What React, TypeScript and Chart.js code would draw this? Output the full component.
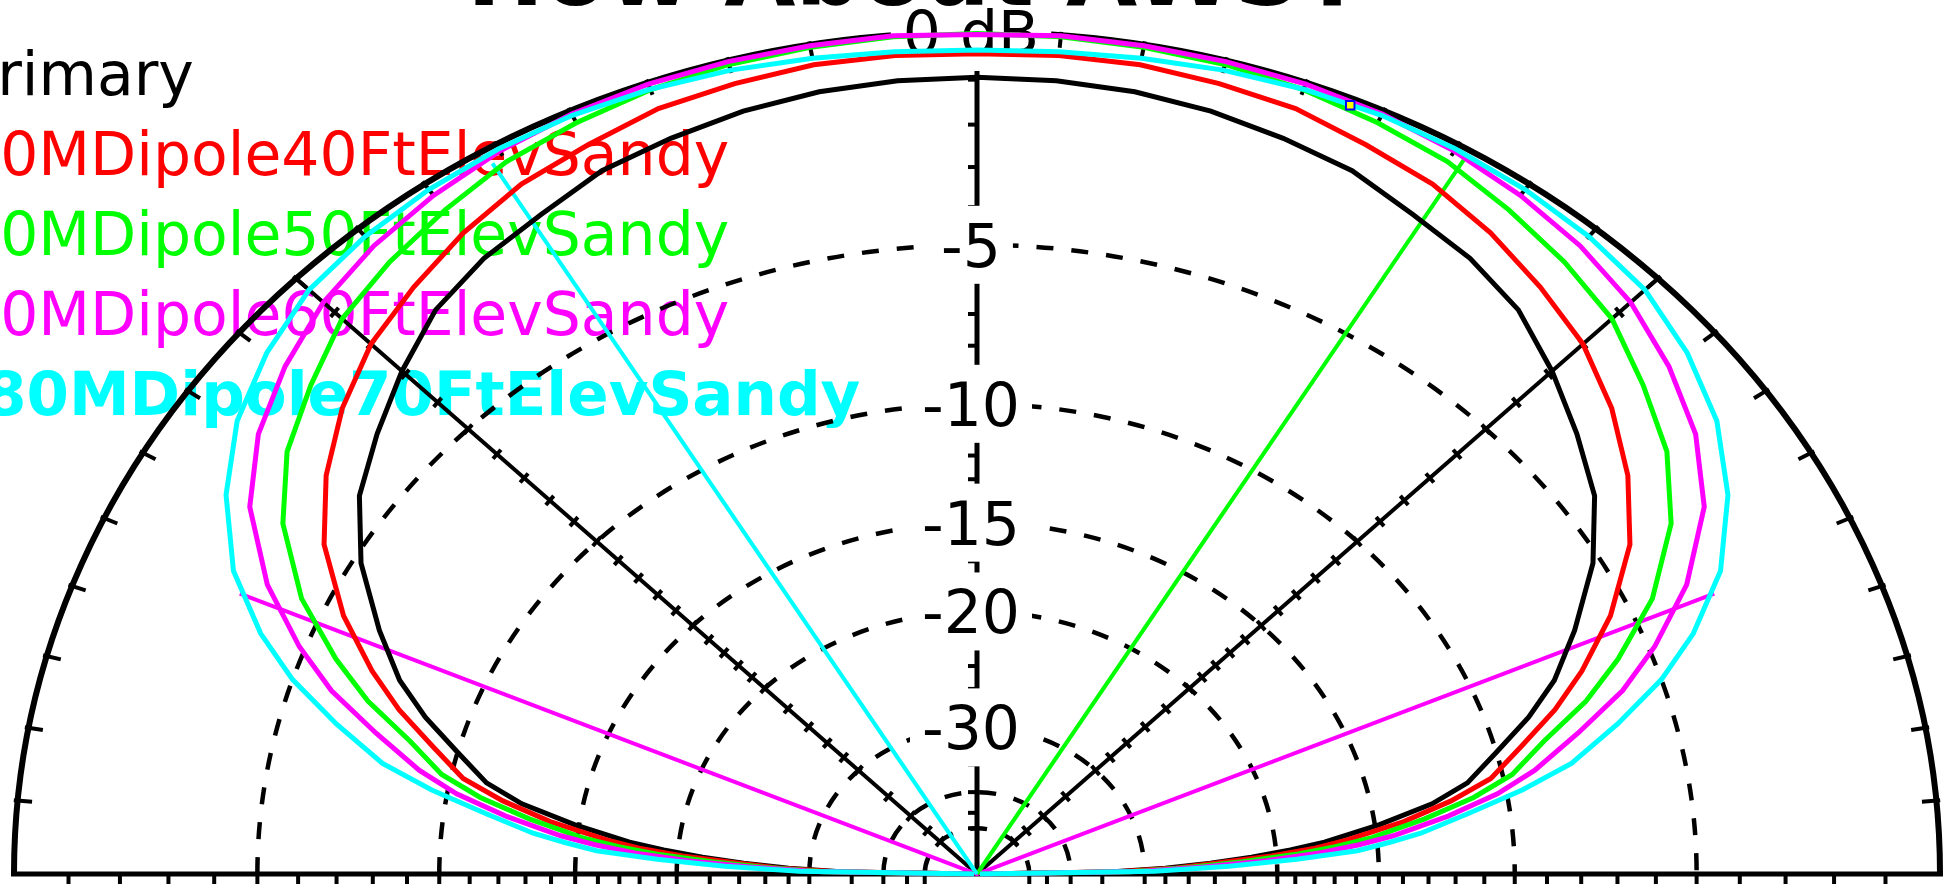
import React, { useEffect, useRef } from "react";
import { Chart, registerables } from "chart.js";

Chart.register(...registerables);

// ---------------- data ----------------
const TITLE = "How About AWST";
const LEGEND_LABELS = [
  "Primary",
  "80MDipole40FtElevSandy",
  "80MDipole50FtElevSandy",
  "80MDipole60FtElevSandy",
  "80MDipole70FtElevSandy",
];
const SERIES_COLORS = ["#000000", "#ff0000", "#00ff00", "#ff00ff", "#00ffff"];

// elevation angle (degrees) of each pattern sample
const ELEVATION_DEG = [
  0, 1, 2, 3, 4, 5, 6, 8, 10, 12, 15, 18, 21, 25, 30, 35, 40, 45, 50, 55, 60, 65, 70, 75, 80, 85, 90,
  95, 100, 105, 110, 115, 120, 125, 130, 135, 140, 145, 150, 155, 159, 162, 165, 168, 170, 172, 174,
  175, 176, 177, 178, 179, 180,
];

// gain (dB, relative) per trace
const PRIMARY_DB = [
  -99, -34, -28, -24.3, -21.5, -19.2, -17.4, -14.8, -12.6, -11.2, -10.0, -8.7, -7.6, -6.5, -5.2, -4.2, -3.55, -2.9, -2.3, -1.95, -1.72, -1.4, -1.25, -1.1, -1.0, -0.96, -0.95,
  -0.96, -1.0, -1.1, -1.25, -1.4, -1.72, -1.95, -2.3, -2.9, -3.55, -4.2, -5.2, -6.5, -7.6, -8.7, -10.0, -11.2, -12.6, -14.8, -17.4,
  -19.2, -21.5, -24.3, -28, -34, -99,
];
const DIPOLE40_DB = [
  -99, -33, -27, -23.8, -20.3, -17.9, -16.3, -13.8, -11.9, -10.4, -9.2, -7.9, -6.8, -5.5, -4.2, -3.3, -2.58, -2.0, -1.62, -1.25, -0.95, -0.78, -0.57, -0.49, -0.42, -0.42, -0.45,
  -0.42, -0.42, -0.49, -0.57, -0.78, -0.95, -1.25, -1.62, -2.0, -2.58, -3.3, -4.2, -5.5, -6.8, -7.9, -9.2, -10.4, -11.9, -13.8, -16.3,
  -17.9, -20.3, -23.8, -27, -33, -99,
];
const DIPOLE50_DB = [
  -99, -31.5, -26, -22.1, -19.0, -16.9, -15.2, -13.0, -11.1, -9.7, -8.5, -7.0, -5.8, -4.4, -3.15, -2.3, -1.75, -1.2, -0.9, -0.65, -0.4, -0.27, -0.15, -0.08, -0.05, -0.03, -0.03,
  -0.03, -0.05, -0.08, -0.15, -0.27, -0.4, -0.65, -0.9, -1.2, -1.75, -2.3, -3.15, -4.4, -5.8, -7.0, -8.5, -9.7, -11.1, -13.0, -15.2,
  -16.9, -19.0, -22.1, -26, -31.5, -99,
];
const DIPOLE60_DB = [
  -99, -30.5, -24.8, -20.6, -17.7, -15.8, -14.3, -12.1, -10.3, -9.0, -7.5, -6.0, -4.85, -3.55, -2.35, -1.6, -1.1, -0.7, -0.45, -0.28, -0.15, -0.07, -0.03, -0.02, -0.02, -0.01, -0.05,
  -0.01, -0.02, -0.02, -0.03, -0.07, -0.15, -0.28, -0.45, -0.7, -1.1, -1.6, -2.35, -3.55, -4.85, -6.0, -7.5, -9.0, -10.3, -12.1, -14.3,
  -15.8, -17.7, -20.6, -24.8, -30.5, -99,
];
const DIPOLE70_DB = [
  -99, -29, -23.0, -18.9, -15.9, -14.5, -13.2, -11.4, -9.5, -7.9, -6.4, -5.0, -3.9, -2.75, -1.8, -1.1, -0.65, -0.33, -0.2, -0.13, -0.1, -0.1, -0.14, -0.2, -0.28, -0.34, -0.37,
  -0.34, -0.28, -0.2, -0.14, -0.1, -0.1, -0.13, -0.2, -0.33, -0.65, -1.1, -1.8, -2.75, -3.9, -5.0, -6.4, -7.9, -9.5, -11.4, -13.2,
  -14.5, -15.9, -18.9, -23.0, -29, -99,
];

// direction indicator lines (from origin out to the trace)
const CYAN_LINE_DEG = [120.8];
const CYAN_LINE_DB = [-0.3];
const GREEN_LINE_DEG = [59.2];
const GREEN_LINE_DB = [-0.16];
const MAGENTA_LINE_DEG = [156.5, 23.5];
const MAGENTA_LINE_DB = [-3.1, -3.1];

// cursor marker
const CURSOR_DEG = [67];
const CURSOR_DB = [-0.14];

// grid
const RING_DB = [-5, -10, -15, -20, -30, -40, -50];
const LABEL_DB = [0, -5, -10, -15, -20, -30];
const LABEL_TEXT = ["0 dB", "-5", "-10", "-15", "-20", "-30"];
const SCALE_TICK_DB = [
  -1, -2, -3, -4, -5, -6, -7, -8, -9, -10, -11, -12, -13, -14, -15, -16, -17, -18, -19, -20,
  -22, -24, -26, -28, -30, -35, -40, -45, -50,
];
const RIM_TICK_DEG = [
  5, 10, 15, 20, 25, 30, 35, 40, 45, 50, 55, 60, 65, 70, 75, 80, 85, 95, 100, 105, 110, 115, 120,
  125, 130, 135, 140, 145, 150, 155, 160, 165, 170, 175,
];
const SPOKE_DEG = [45, 90, 135];

// ---------------- helpers ----------------
const W = 1954;
const H = 885;
const CX_PX = 977;
const CY_PX = 874;
const RX_PX = 963;
const RY_PX = 842;

// ARRL log-periodic polar scale: radius shrinks to 0.89 every 2 dB
const arrl = (db: number) => Math.pow(0.89, -db / 2);
const polar = (deg: number, db: number) => {
  const r = arrl(db);
  const t = (deg * Math.PI) / 180;
  return { x: r * Math.cos(t), y: r * Math.sin(t) };
};
const trace = (degs: number[], dbs: number[]) => degs.map((d, i) => polar(d, dbs[i]));

const FONT = '"DejaVu Sans", "Liberation Sans", sans-serif';

const gridPlugin = {
  id: "ezGrid",
  beforeDatasetsDraw(chart: any) {
    const ctx = chart.ctx as CanvasRenderingContext2D;
    const xs = chart.scales.x;
    const ys = chart.scales.y;
    const cx = xs.getPixelForValue(0);
    const cy = ys.getPixelForValue(0);
    const rx = xs.getPixelForValue(1) - cx;
    const ry = cy - ys.getPixelForValue(1);
    const pt = (deg: number, r: number) => {
      const t = (deg * Math.PI) / 180;
      return [cx + r * rx * Math.cos(t), cy - r * ry * Math.sin(t)];
    };

    ctx.save();
    ctx.lineCap = "butt";
    ctx.textAlign = "left";
    ctx.textBaseline = "alphabetic";

    // legend (colored text)
    LEGEND_LABELS.forEach((t, i) => {
      if (i === 4) {
        ctx.font = `bold 61px ${FONT}`;
        ctx.fillStyle = SERIES_COLORS[i];
        ctx.fillText(t, -16, 95 + i * 80);
      } else {
        ctx.font = `60px ${FONT}`;
        ctx.fillStyle = SERIES_COLORS[i];
        ctx.fillText(t, -38, 95 + i * 80);
      }
    });

    ctx.strokeStyle = "#000";

    // dashed rings
    ctx.lineWidth = 4.5;
    ctx.setLineDash([17, 18]);
    RING_DB.forEach((db) => {
      const r = arrl(db);
      ctx.beginPath();
      ctx.ellipse(cx, cy, r * rx, r * ry, 0, Math.PI, 2 * Math.PI);
      ctx.stroke();
    });
    ctx.setLineDash([]);

    // outer rim
    ctx.lineWidth = 6;
    ctx.beginPath();
    ctx.ellipse(cx, cy, rx, ry, 0, Math.PI, 2 * Math.PI);
    ctx.stroke();

    // rim ticks
    ctx.lineWidth = 4;
    RIM_TICK_DEG.forEach((deg) => {
      const [x1, y1] = pt(deg, 0.985);
      const [x2, y2] = pt(deg, 1.004);
      ctx.beginPath();
      ctx.moveTo(x1, y1);
      ctx.lineTo(x2, y2);
      ctx.stroke();
    });

    // baseline
    ctx.lineWidth = 5;
    ctx.beginPath();
    ctx.moveTo(cx - rx - 3, cy);
    ctx.lineTo(cx + rx + 3, cy);
    ctx.stroke();

    // spokes
    SPOKE_DEG.forEach((deg) => {
      const [x2, y2] = pt(deg, 1);
      ctx.lineWidth = deg === 90 ? 5 : 4;
      ctx.beginPath();
      ctx.moveTo(cx, cy);
      ctx.lineTo(x2, y2);
      ctx.stroke();
    });

    // scale ticks on baseline, vertical axis and diagonals
    ctx.lineWidth = 4;
    SCALE_TICK_DB.forEach((db) => {
      const r = arrl(db);
      [-1, 1].forEach((s) => {
        const x = cx + s * r * rx;
        ctx.beginPath();
        ctx.moveTo(x, cy);
        ctx.lineTo(x, cy + 10);
        ctx.stroke();
      });
      const y = cy - r * ry;
      ctx.beginPath();
      ctx.moveTo(cx, y);
      ctx.lineTo(cx - 9, y);
      ctx.stroke();
      [45, 135].forEach((deg) => {
        const [px, py] = pt(deg, r);
        const dx = px - cx;
        const dy = py - cy;
        const len = Math.hypot(dx, dy);
        const nx = -dy / len;
        const ny = dx / len;
        ctx.beginPath();
        ctx.moveTo(px - nx * 6, py - ny * 6);
        ctx.lineTo(px + nx * 6, py + ny * 6);
        ctx.stroke();
      });
    });

    // ring labels with white boxes
    ctx.font = `60px ${FONT}`;
    ctx.textAlign = "center";
    ctx.textBaseline = "alphabetic";
    LABEL_DB.forEach((db, i) => {
      const y = cy - arrl(db) * ry;
      const t = LABEL_TEXT[i];
      const w = ctx.measureText(t).width;
      const lx = cx - 6;
      ctx.fillStyle = "#fff";
      ctx.fillRect(lx - w / 2 - 12, y - 39, w + 24, 78);
      ctx.fillStyle = "#000";
      ctx.fillText(t, lx, y + 22);
    });

    // title (mostly above the visible area), drawn over the label box
    ctx.fillStyle = "#000";
    ctx.font = `bold 92px ${FONT}`;
    ctx.textAlign = "left";
    ctx.fillText(TITLE, 467, 5);

    ctx.restore();
  },
};

export default function App() {
  const ref = useRef<HTMLCanvasElement | null>(null);

  useEffect(() => {
    document.body.style.margin = "0";
    document.body.style.overflow = "hidden";
    const canvas = ref.current;
    if (!canvas) return;

    const line = (label: string, data: any[], color: string, width: number, order: number) => ({
      label,
      data,
      borderColor: color,
      backgroundColor: color,
      borderWidth: width,
      showLine: true,
      pointRadius: 0,
      pointHoverRadius: 0,
      fill: false,
      tension: 0,
      order,
      borderCapStyle: "butt",
      borderJoinStyle: "miter",
    });

    const magentaEnds = trace(MAGENTA_LINE_DEG, MAGENTA_LINE_DB);

    const chart = new Chart(canvas, {
      type: "scatter",
      data: {
        datasets: [
          {
            label: "cursor",
            data: trace(CURSOR_DEG, CURSOR_DB),
            showLine: false,
            pointStyle: "rect",
            pointRadius: 6,
            pointBackgroundColor: "#ffff00",
            pointBorderColor: "#0000ff",
            pointBorderWidth: 2,
            order: -1,
          },
          line(LEGEND_LABELS[4], trace(ELEVATION_DEG, DIPOLE70_DB), SERIES_COLORS[4], 5, 0),
          line(LEGEND_LABELS[3], trace(ELEVATION_DEG, DIPOLE60_DB), SERIES_COLORS[3], 5, 1),
          line(LEGEND_LABELS[2], trace(ELEVATION_DEG, DIPOLE50_DB), SERIES_COLORS[2], 5, 2),
          line(LEGEND_LABELS[1], trace(ELEVATION_DEG, DIPOLE40_DB), SERIES_COLORS[1], 5, 3),
          line(LEGEND_LABELS[0], trace(ELEVATION_DEG, PRIMARY_DB), SERIES_COLORS[0], 5, 4),
          line(
            "cyan direction",
            [{ x: 0, y: 0 }, ...trace(CYAN_LINE_DEG, CYAN_LINE_DB)],
            SERIES_COLORS[4],
            4,
            5
          ),
          line(
            "green direction",
            [{ x: 0, y: 0 }, ...trace(GREEN_LINE_DEG, GREEN_LINE_DB)],
            SERIES_COLORS[2],
            4,
            6
          ),
          line(
            "magenta beamwidth",
            [magentaEnds[0], { x: 0, y: 0 }, magentaEnds[1]],
            SERIES_COLORS[3],
            4,
            7
          ),
        ] as any,
      },
      options: {
        animation: false,
        responsive: false,
        maintainAspectRatio: false,
        events: [],
        layout: { padding: 0, autoPadding: false },
        plugins: {
          legend: { display: false },
          title: { display: false },
          tooltip: { enabled: false },
        },
        scales: {
          x: {
            type: "linear",
            display: false,
            min: -CX_PX / RX_PX,
            max: (W - CX_PX) / RX_PX,
          },
          y: {
            type: "linear",
            display: false,
            min: -(H - CY_PX) / RY_PX,
            max: CY_PX / RY_PX,
          },
        },
      } as any,
      plugins: [gridPlugin],
    });

    return () => chart.destroy();
  }, []);

  return (
    <div style={{ width: W, height: H, position: "relative", overflow: "hidden", background: "#fff" }}>
      <canvas ref={ref} width={W} height={H} style={{ display: "block", width: W, height: H }} />
    </div>
  );
}
